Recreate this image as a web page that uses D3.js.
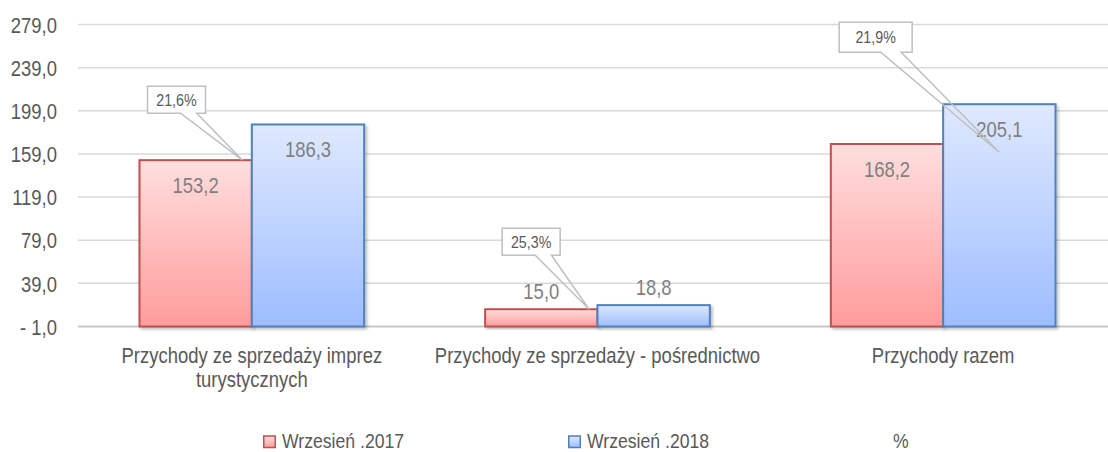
<!DOCTYPE html>
<html>
<head>
<meta charset="utf-8">
<script src="https://cdn.jsdelivr.net/npm/d3@7.9.0/dist/d3.min.js"></script>
<style>
  body { margin: 0; background: #fff; }
  svg { display: block; font-family: "Liberation Sans", Arial, sans-serif; }
</style>
</head>
<body>
<svg id="chart" width="1108" height="452"></svg>
<script>
// data
const categories = [
  ['Przychody ze sprzedaży imprez', 'turystycznych'],
  ['Przychody ze sprzedaży - pośrednictwo'],
  ['Przychody razem']
];
const series = ['Wrzesień .2017', 'Wrzesień .2018', '%'];
const values2017 = [153.2, 15.0, 168.2];
const values2018 = [186.3, 18.8, 205.1];
const pctLabels = ['21,6%', '25,3%', '21,9%'];
const yTicks = [-1, 39, 79, 119, 159, 199, 239, 279];

// callout placement: anchor relative to bar left / bar top, box offset from anchor
const calloutAnchor = [
  { bar: 0, dx: 103, dy: 0 },
  { bar: 0, dx: 104, dy: 0 },
  { bar: 1, dx: 56, dy: 48 }
];
const calloutBox = [
  { dx: -95, dy: -74, w: 58, h: 27 },
  { dx: -87, dy: -81, w: 58, h: 27 },
  { dx: -160, dy: -130, w: 73, h: 30 }
];

const NARROW = 0.84; // fake a condensed face
function narrow(sel) {
  sel.attr('transform', function () {
    const x0 = +d3.select(this).attr('x') || 0;
    return `translate(${x0},0) scale(${NARROW},1) translate(${-x0},0)`;
  });
}

const svg = d3.select('#chart');
const fmt = v => v.toFixed(1).replace('.', ',');

const x = d3.scaleBand()
  .domain(d3.range(categories.length))
  .range([79, 1116])
  .paddingInner(0.35)
  .paddingOuter(0.175);
const xSub = d3.scaleBand()
  .domain([0, 1])
  .range([0, x.bandwidth()]);
const y = d3.scaleLinear().domain([-1, 279]).range([326.5, 24.5]);

const defs = svg.append('defs');
function grad(id, top, bottom) {
  const g = defs.append('linearGradient').attr('id', id)
    .attr('x1', 0).attr('y1', 0).attr('x2', 0).attr('y2', 1);
  g.append('stop').attr('offset', '0%').attr('stop-color', top);
  g.append('stop').attr('offset', '100%').attr('stop-color', bottom);
}
grad('gRed', '#ffdede', '#ff9c9c');
grad('gBlue', '#dfe9ff', '#9dbdff');
defs.append('filter').attr('id', 'shadow')
  .attr('x', '-10%').attr('y', '-10%').attr('width', '130%').attr('height', '130%')
  .append('feDropShadow')
  .attr('dx', 2).attr('dy', 2).attr('stdDeviation', 1.5)
  .attr('flood-color', '#000').attr('flood-opacity', 0.25);

const fills = ['url(#gRed)', 'url(#gBlue)'];
const strokes = ['#c0504d', '#4f81bd'];

// grid
svg.append('g')
  .selectAll('line')
  .data(yTicks)
  .join('line')
  .attr('x1', 78).attr('x2', 1108)
  .attr('y1', d => y(d)).attr('y2', d => y(d))
  .attr('stroke', d => d === -1 ? '#c8c8c8' : '#d9d9d9')
  .attr('stroke-width', d => d === -1 ? 2 : 1.5);

// y axis labels
const yAxis = d3.axisLeft(y).tickValues(yTicks).tickSize(0).tickPadding(0)
  .tickFormat(d => d < 0 ? '- ' + fmt(Math.abs(d)) : fmt(d));
const ya = svg.append('g').attr('transform', 'translate(57,0)').call(yAxis);
ya.select('.domain').remove();
ya.selectAll('text')
  .attr('fill', '#595959')
  .attr('font-size', 22)
  .attr('dy', '0.35em')
  .attr('transform', `scale(${NARROW},1)`);

// bars
const rows = categories.map((c, i) => [values2017[i], values2018[i]]);
const groups = svg.append('g')
  .selectAll('g')
  .data(rows)
  .join('g')
  .attr('transform', (d, i) => `translate(${x(i)},0)`);

groups.selectAll('rect')
  .data(d => d)
  .join('rect')
  .attr('x', (d, j) => xSub(j))
  .attr('y', d => y(d))
  .attr('width', xSub.bandwidth())
  .attr('height', d => y(-1) - y(d))
  .attr('fill', (d, j) => fills[j])
  .attr('stroke', (d, j) => strokes[j])
  .attr('stroke-width', 2)
  .attr('filter', 'url(#shadow)');

// value labels
groups.selectAll('text')
  .data(d => d)
  .join('text')
  .attr('x', (d, j) => xSub(j) + xSub.bandwidth() / 2)
  .attr('y', d => (y(-1) - y(d) > 50) ? y(d) + 25 : y(d) - 18)
  .attr('dy', '0.35em')
  .attr('text-anchor', 'middle')
  .attr('fill', '#7f7f7f')
  .attr('font-size', 22)
  .text(d => fmt(d))
  .call(narrow);

// callouts
const callouts = svg.append('g');
pctLabels.forEach((lab, i) => {
  const a = calloutAnchor[i];
  const b = calloutBox[i];
  const v = a.bar === 0 ? values2017[i] : values2018[i];
  const ax = x(i) + xSub(a.bar) + a.dx;
  const ay = y(v) + a.dy;
  const bx = ax + b.dx, by = ay + b.dy;
  const bl = bx + b.w * 0.57, br = bx + b.w * 0.85;
  callouts.append('rect')
    .attr('x', bx).attr('y', by).attr('width', b.w).attr('height', b.h)
    .attr('fill', '#fff');
  callouts.append('path')
    .attr('d', `M${bx},${by}H${bx + b.w}V${by + b.h}H${br}L${ax},${ay}L${bl},${by + b.h}H${bx}Z`)
    .attr('fill', 'none')
    .attr('stroke', '#bfbfbf')
    .attr('stroke-width', 1.5);
  callouts.append('text')
    .attr('x', bx + b.w / 2).attr('y', by + b.h / 2)
    .attr('dy', '0.35em')
    .attr('text-anchor', 'middle')
    .attr('fill', '#595959')
    .attr('font-size', 17)
    .text(lab)
    .call(narrow);
});

// category labels
svg.append('g')
  .selectAll('text')
  .data(categories)
  .join('text')
  .attr('x', (d, i) => x(i) + x.bandwidth() / 2)
  .attr('y', 355.5)
  .attr('text-anchor', 'middle')
  .attr('fill', '#595959')
  .attr('font-size', 22)
  .each(function (d) {
    const x0 = d3.select(this).attr('x');
    d3.select(this).selectAll('tspan')
      .data(d)
      .join('tspan')
      .attr('x', x0)
      .attr('dy', (t, k) => k === 0 ? '0.35em' : '24px')
      .text(t => t);
  })
  .call(narrow);

// legend
const legend = svg.append('g')
  .selectAll('g')
  .data(series)
  .join('g')
  .attr('transform', (d, i) => `translate(${263 + i * 305},441)`);
legend.filter((d, i) => i < 2).append('rect')
  .attr('x', 0.75).attr('y', -5)
  .attr('width', 11.5).attr('height', 11.5)
  .attr('fill', (d, i) => fills[i])
  .attr('stroke', (d, i) => strokes[i])
  .attr('stroke-width', 1.5);
legend.append('text')
  .attr('x', (d, i) => i < 2 ? 19 : 20)
  .attr('dy', '0.35em')
  .attr('fill', '#595959')
  .attr('font-size', 21)
  .text(d => d)
  .call(narrow);
</script>
</body>
</html>
